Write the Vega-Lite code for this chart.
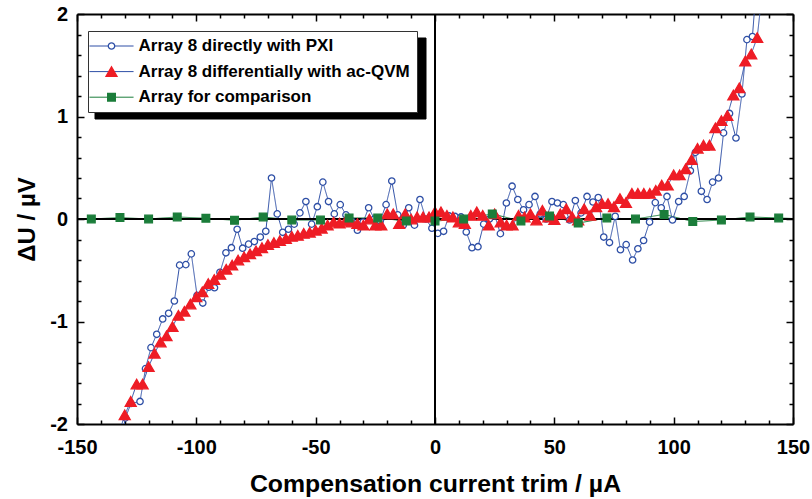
{
"$schema": "https://vega.github.io/schema/vega-lite/v6.json",
"width": 716, "height": 410,
"autosize": {"type": "none"},
"padding": {"left": 77, "top": 14, "right": 19, "bottom": 75},
"config": {"view": {"stroke": null}, "font": "Liberation Sans"},
"data": {"values": [
{"s":"Array 8 directly with PXI","x":-132.1,"y":-2.25},
{"s":"Array 8 directly with PXI","x":-129.7,"y":-1.94},
{"s":"Array 8 directly with PXI","x":-127.4,"y":-1.8},
{"s":"Array 8 directly with PXI","x":-123.6,"y":-1.78},
{"s":"Array 8 directly with PXI","x":-121.3,"y":-1.46},
{"s":"Array 8 directly with PXI","x":-119.0,"y":-1.255},
{"s":"Array 8 directly with PXI","x":-116.6,"y":-1.125},
{"s":"Array 8 directly with PXI","x":-114.1,"y":-0.975},
{"s":"Array 8 directly with PXI","x":-111.6,"y":-0.92},
{"s":"Array 8 directly with PXI","x":-109.2,"y":-0.8},
{"s":"Array 8 directly with PXI","x":-107.0,"y":-0.45},
{"s":"Array 8 directly with PXI","x":-104.4,"y":-0.445},
{"s":"Array 8 directly with PXI","x":-102.1,"y":-0.34},
{"s":"Array 8 directly with PXI","x":-99.7,"y":-0.745},
{"s":"Array 8 directly with PXI","x":-97.3,"y":-0.82},
{"s":"Array 8 directly with PXI","x":-94.8,"y":-0.665},
{"s":"Array 8 directly with PXI","x":-92.4,"y":-0.67},
{"s":"Array 8 directly with PXI","x":-90.1,"y":-0.52},
{"s":"Array 8 directly with PXI","x":-87.6,"y":-0.33},
{"s":"Array 8 directly with PXI","x":-85.3,"y":-0.28},
{"s":"Array 8 directly with PXI","x":-82.9,"y":-0.1},
{"s":"Array 8 directly with PXI","x":-80.6,"y":-0.285},
{"s":"Array 8 directly with PXI","x":-78.1,"y":-0.245},
{"s":"Array 8 directly with PXI","x":-75.7,"y":-0.22},
{"s":"Array 8 directly with PXI","x":-73.2,"y":-0.176},
{"s":"Array 8 directly with PXI","x":-70.9,"y":-0.12},
{"s":"Array 8 directly with PXI","x":-68.5,"y":0.4},
{"s":"Array 8 directly with PXI","x":-66.1,"y":0.05},
{"s":"Array 8 directly with PXI","x":-63.8,"y":-0.13},
{"s":"Array 8 directly with PXI","x":-61.4,"y":-0.1},
{"s":"Array 8 directly with PXI","x":-59.0,"y":-0.05},
{"s":"Array 8 directly with PXI","x":-56.6,"y":0.06},
{"s":"Array 8 directly with PXI","x":-54.1,"y":0.17},
{"s":"Array 8 directly with PXI","x":-51.7,"y":-0.05},
{"s":"Array 8 directly with PXI","x":-49.3,"y":0.12},
{"s":"Array 8 directly with PXI","x":-47.0,"y":0.36},
{"s":"Array 8 directly with PXI","x":-44.6,"y":0.17},
{"s":"Array 8 directly with PXI","x":-42.2,"y":0.05},
{"s":"Array 8 directly with PXI","x":-39.7,"y":0.14},
{"s":"Array 8 directly with PXI","x":-37.3,"y":0.04},
{"s":"Array 8 directly with PXI","x":-34.9,"y":-0.02},
{"s":"Array 8 directly with PXI","x":-32.5,"y":-0.11},
{"s":"Array 8 directly with PXI","x":-30.1,"y":-0.03},
{"s":"Array 8 directly with PXI","x":-27.8,"y":0.11},
{"s":"Array 8 directly with PXI","x":-25.4,"y":0.0},
{"s":"Array 8 directly with PXI","x":-23.0,"y":-0.02},
{"s":"Array 8 directly with PXI","x":-20.5,"y":0.14},
{"s":"Array 8 directly with PXI","x":-18.1,"y":0.37},
{"s":"Array 8 directly with PXI","x":-15.6,"y":0.04},
{"s":"Array 8 directly with PXI","x":-13.3,"y":-0.06},
{"s":"Array 8 directly with PXI","x":-11.0,"y":0.11},
{"s":"Array 8 directly with PXI","x":-8.6,"y":-0.06},
{"s":"Array 8 directly with PXI","x":-6.3,"y":0.19},
{"s":"Array 8 directly with PXI","x":-3.8,"y":0.0},
{"s":"Array 8 directly with PXI","x":-1.3,"y":-0.09},
{"s":"Array 8 directly with PXI","x":1.2,"y":-0.14},
{"s":"Array 8 directly with PXI","x":3.6,"y":-0.12},
{"s":"Array 8 directly with PXI","x":5.9,"y":0.03},
{"s":"Array 8 directly with PXI","x":8.4,"y":0.025},
{"s":"Array 8 directly with PXI","x":10.9,"y":0.02},
{"s":"Array 8 directly with PXI","x":13.1,"y":-0.127},
{"s":"Array 8 directly with PXI","x":15.5,"y":-0.28},
{"s":"Array 8 directly with PXI","x":18.0,"y":-0.27},
{"s":"Array 8 directly with PXI","x":20.4,"y":-0.05},
{"s":"Array 8 directly with PXI","x":22.8,"y":0.0},
{"s":"Array 8 directly with PXI","x":25.1,"y":0.03},
{"s":"Array 8 directly with PXI","x":27.4,"y":-0.143},
{"s":"Array 8 directly with PXI","x":29.9,"y":0.156},
{"s":"Array 8 directly with PXI","x":32.3,"y":0.32},
{"s":"Array 8 directly with PXI","x":34.7,"y":0.19},
{"s":"Array 8 directly with PXI","x":37.1,"y":0.09},
{"s":"Array 8 directly with PXI","x":39.4,"y":0.14},
{"s":"Array 8 directly with PXI","x":41.9,"y":0.22},
{"s":"Array 8 directly with PXI","x":44.1,"y":0.05},
{"s":"Array 8 directly with PXI","x":46.5,"y":0.0},
{"s":"Array 8 directly with PXI","x":49.0,"y":0.17},
{"s":"Array 8 directly with PXI","x":51.3,"y":0.156},
{"s":"Array 8 directly with PXI","x":53.8,"y":0.14},
{"s":"Array 8 directly with PXI","x":56.4,"y":-0.01},
{"s":"Array 8 directly with PXI","x":58.8,"y":0.18},
{"s":"Array 8 directly with PXI","x":61.2,"y":0.06},
{"s":"Array 8 directly with PXI","x":63.7,"y":0.22},
{"s":"Array 8 directly with PXI","x":66.2,"y":0.166},
{"s":"Array 8 directly with PXI","x":68.4,"y":0.21},
{"s":"Array 8 directly with PXI","x":70.7,"y":-0.176},
{"s":"Array 8 directly with PXI","x":73.1,"y":-0.23},
{"s":"Array 8 directly with PXI","x":75.5,"y":0.026},
{"s":"Array 8 directly with PXI","x":77.7,"y":-0.3},
{"s":"Array 8 directly with PXI","x":80.1,"y":-0.25},
{"s":"Array 8 directly with PXI","x":82.8,"y":-0.4},
{"s":"Array 8 directly with PXI","x":85.0,"y":-0.29},
{"s":"Array 8 directly with PXI","x":87.4,"y":-0.21},
{"s":"Array 8 directly with PXI","x":89.9,"y":-0.03},
{"s":"Array 8 directly with PXI","x":92.3,"y":0.16},
{"s":"Array 8 directly with PXI","x":94.8,"y":0.11},
{"s":"Array 8 directly with PXI","x":97.2,"y":0.22},
{"s":"Array 8 directly with PXI","x":99.5,"y":-0.01},
{"s":"Array 8 directly with PXI","x":102.1,"y":0.17},
{"s":"Array 8 directly with PXI","x":104.4,"y":0.22},
{"s":"Array 8 directly with PXI","x":107.0,"y":0.47},
{"s":"Array 8 directly with PXI","x":109.1,"y":0.65},
{"s":"Array 8 directly with PXI","x":111.6,"y":0.27},
{"s":"Array 8 directly with PXI","x":114.0,"y":0.19},
{"s":"Array 8 directly with PXI","x":116.3,"y":0.36},
{"s":"Array 8 directly with PXI","x":118.8,"y":0.4},
{"s":"Array 8 directly with PXI","x":120.9,"y":0.84},
{"s":"Array 8 directly with PXI","x":123.4,"y":1.03},
{"s":"Array 8 directly with PXI","x":126.1,"y":0.79},
{"s":"Array 8 directly with PXI","x":128.6,"y":1.22},
{"s":"Array 8 directly with PXI","x":130.7,"y":1.75},
{"s":"Array 8 directly with PXI","x":133.0,"y":1.78},
{"s":"Array 8 directly with PXI","x":135.4,"y":2.5},
{"s":"Array 8 differentially with ac-QVM","x":-132.5,"y":-2.1},
{"s":"Array 8 differentially with ac-QVM","x":-130,"y":-1.91},
{"s":"Array 8 differentially with ac-QVM","x":-127.5,"y":-1.78},
{"s":"Array 8 differentially with ac-QVM","x":-125,"y":-1.61},
{"s":"Array 8 differentially with ac-QVM","x":-122.5,"y":-1.61},
{"s":"Array 8 differentially with ac-QVM","x":-120,"y":-1.44},
{"s":"Array 8 differentially with ac-QVM","x":-117.5,"y":-1.31},
{"s":"Array 8 differentially with ac-QVM","x":-115,"y":-1.2},
{"s":"Array 8 differentially with ac-QVM","x":-112.5,"y":-1.14},
{"s":"Array 8 differentially with ac-QVM","x":-110,"y":-1.05},
{"s":"Array 8 differentially with ac-QVM","x":-107.5,"y":-0.94},
{"s":"Array 8 differentially with ac-QVM","x":-105,"y":-0.9},
{"s":"Array 8 differentially with ac-QVM","x":-102.5,"y":-0.83},
{"s":"Array 8 differentially with ac-QVM","x":-100,"y":-0.76},
{"s":"Array 8 differentially with ac-QVM","x":-97.5,"y":-0.71},
{"s":"Array 8 differentially with ac-QVM","x":-95,"y":-0.63},
{"s":"Array 8 differentially with ac-QVM","x":-92.5,"y":-0.59},
{"s":"Array 8 differentially with ac-QVM","x":-90,"y":-0.54},
{"s":"Array 8 differentially with ac-QVM","x":-87.5,"y":-0.49},
{"s":"Array 8 differentially with ac-QVM","x":-85,"y":-0.45},
{"s":"Array 8 differentially with ac-QVM","x":-82.5,"y":-0.4},
{"s":"Array 8 differentially with ac-QVM","x":-80,"y":-0.37},
{"s":"Array 8 differentially with ac-QVM","x":-77.5,"y":-0.34},
{"s":"Array 8 differentially with ac-QVM","x":-75,"y":-0.31},
{"s":"Array 8 differentially with ac-QVM","x":-72.5,"y":-0.28},
{"s":"Array 8 differentially with ac-QVM","x":-70,"y":-0.25},
{"s":"Array 8 differentially with ac-QVM","x":-67.5,"y":-0.23},
{"s":"Array 8 differentially with ac-QVM","x":-65,"y":-0.21},
{"s":"Array 8 differentially with ac-QVM","x":-62.5,"y":-0.19},
{"s":"Array 8 differentially with ac-QVM","x":-60,"y":-0.17},
{"s":"Array 8 differentially with ac-QVM","x":-57.5,"y":-0.16},
{"s":"Array 8 differentially with ac-QVM","x":-55,"y":-0.14},
{"s":"Array 8 differentially with ac-QVM","x":-52.5,"y":-0.13},
{"s":"Array 8 differentially with ac-QVM","x":-50,"y":-0.11},
{"s":"Array 8 differentially with ac-QVM","x":-47.5,"y":-0.09},
{"s":"Array 8 differentially with ac-QVM","x":-45,"y":-0.06},
{"s":"Array 8 differentially with ac-QVM","x":-42.5,"y":-0.03},
{"s":"Array 8 differentially with ac-QVM","x":-40,"y":-0.04},
{"s":"Array 8 differentially with ac-QVM","x":-37.5,"y":-0.02},
{"s":"Array 8 differentially with ac-QVM","x":-35,"y":-0.03},
{"s":"Array 8 differentially with ac-QVM","x":-32.5,"y":-0.045},
{"s":"Array 8 differentially with ac-QVM","x":-30,"y":-0.06},
{"s":"Array 8 differentially with ac-QVM","x":-27.5,"y":0.0},
{"s":"Array 8 differentially with ac-QVM","x":-25,"y":-0.06},
{"s":"Array 8 differentially with ac-QVM","x":-22.5,"y":-0.06},
{"s":"Array 8 differentially with ac-QVM","x":-20,"y":0.05},
{"s":"Array 8 differentially with ac-QVM","x":-17.5,"y":0.05},
{"s":"Array 8 differentially with ac-QVM","x":-15,"y":-0.045},
{"s":"Array 8 differentially with ac-QVM","x":-12.5,"y":0.05},
{"s":"Array 8 differentially with ac-QVM","x":-10,"y":0.0},
{"s":"Array 8 differentially with ac-QVM","x":-7.5,"y":0.02},
{"s":"Array 8 differentially with ac-QVM","x":-5,"y":0.02},
{"s":"Array 8 differentially with ac-QVM","x":-2.5,"y":0.02},
{"s":"Array 8 differentially with ac-QVM","x":0,"y":0.07},
{"s":"Array 8 differentially with ac-QVM","x":2.5,"y":0.07},
{"s":"Array 8 differentially with ac-QVM","x":5,"y":0.035},
{"s":"Array 8 differentially with ac-QVM","x":7.5,"y":0.02},
{"s":"Array 8 differentially with ac-QVM","x":10,"y":-0.03},
{"s":"Array 8 differentially with ac-QVM","x":12.5,"y":-0.045},
{"s":"Array 8 differentially with ac-QVM","x":15,"y":0.035},
{"s":"Array 8 differentially with ac-QVM","x":17.5,"y":0.07},
{"s":"Array 8 differentially with ac-QVM","x":20,"y":0.035},
{"s":"Array 8 differentially with ac-QVM","x":22.5,"y":-0.06},
{"s":"Array 8 differentially with ac-QVM","x":25,"y":0.05},
{"s":"Array 8 differentially with ac-QVM","x":27.5,"y":-0.03},
{"s":"Array 8 differentially with ac-QVM","x":30,"y":-0.06},
{"s":"Array 8 differentially with ac-QVM","x":32.5,"y":-0.06},
{"s":"Array 8 differentially with ac-QVM","x":35,"y":0.035},
{"s":"Array 8 differentially with ac-QVM","x":37.5,"y":0.02},
{"s":"Array 8 differentially with ac-QVM","x":40,"y":0.05},
{"s":"Array 8 differentially with ac-QVM","x":42.5,"y":-0.01},
{"s":"Array 8 differentially with ac-QVM","x":45,"y":0.085},
{"s":"Array 8 differentially with ac-QVM","x":47.5,"y":0.02},
{"s":"Array 8 differentially with ac-QVM","x":50,"y":-0.006},
{"s":"Array 8 differentially with ac-QVM","x":52.5,"y":0.05},
{"s":"Array 8 differentially with ac-QVM","x":55,"y":0.1},
{"s":"Array 8 differentially with ac-QVM","x":57.5,"y":0.02},
{"s":"Array 8 differentially with ac-QVM","x":60,"y":-0.01},
{"s":"Array 8 differentially with ac-QVM","x":62.5,"y":0.1},
{"s":"Array 8 differentially with ac-QVM","x":65,"y":0.035},
{"s":"Array 8 differentially with ac-QVM","x":67.5,"y":0.12},
{"s":"Array 8 differentially with ac-QVM","x":70,"y":0.15},
{"s":"Array 8 differentially with ac-QVM","x":72.5,"y":0.15},
{"s":"Array 8 differentially with ac-QVM","x":75,"y":0.12},
{"s":"Array 8 differentially with ac-QVM","x":77.5,"y":0.2},
{"s":"Array 8 differentially with ac-QVM","x":80,"y":0.16},
{"s":"Array 8 differentially with ac-QVM","x":82.5,"y":0.25},
{"s":"Array 8 differentially with ac-QVM","x":85,"y":0.25},
{"s":"Array 8 differentially with ac-QVM","x":87.5,"y":0.25},
{"s":"Array 8 differentially with ac-QVM","x":90,"y":0.25},
{"s":"Array 8 differentially with ac-QVM","x":92.5,"y":0.28},
{"s":"Array 8 differentially with ac-QVM","x":95,"y":0.33},
{"s":"Array 8 differentially with ac-QVM","x":97.5,"y":0.33},
{"s":"Array 8 differentially with ac-QVM","x":100,"y":0.43},
{"s":"Array 8 differentially with ac-QVM","x":102.5,"y":0.43},
{"s":"Array 8 differentially with ac-QVM","x":105,"y":0.49},
{"s":"Array 8 differentially with ac-QVM","x":107.5,"y":0.58},
{"s":"Array 8 differentially with ac-QVM","x":110,"y":0.69},
{"s":"Array 8 differentially with ac-QVM","x":112.5,"y":0.72},
{"s":"Array 8 differentially with ac-QVM","x":115,"y":0.72},
{"s":"Array 8 differentially with ac-QVM","x":117.5,"y":0.89},
{"s":"Array 8 differentially with ac-QVM","x":120,"y":0.96},
{"s":"Array 8 differentially with ac-QVM","x":122.5,"y":1.01},
{"s":"Array 8 differentially with ac-QVM","x":125,"y":1.21},
{"s":"Array 8 differentially with ac-QVM","x":127.5,"y":1.28},
{"s":"Array 8 differentially with ac-QVM","x":130,"y":1.54},
{"s":"Array 8 differentially with ac-QVM","x":132.5,"y":1.61},
{"s":"Array 8 differentially with ac-QVM","x":135,"y":1.77},
{"s":"Array 8 differentially with ac-QVM","x":137.5,"y":2.3},
{"s":"Array for comparison","x":-156,"y":0.0},
{"s":"Array for comparison","x":-144,"y":0.0},
{"s":"Array for comparison","x":-132,"y":0.014},
{"s":"Array for comparison","x":-120,"y":0.0},
{"s":"Array for comparison","x":-108,"y":0.02},
{"s":"Array for comparison","x":-96,"y":0.007},
{"s":"Array for comparison","x":-84,"y":-0.013},
{"s":"Array for comparison","x":-72,"y":0.02},
{"s":"Array for comparison","x":-60,"y":-0.01},
{"s":"Array for comparison","x":-48,"y":-0.01},
{"s":"Array for comparison","x":-36,"y":0.01},
{"s":"Array for comparison","x":-24,"y":0.01},
{"s":"Array for comparison","x":-12,"y":-0.02},
{"s":"Array for comparison","x":0,"y":-0.02},
{"s":"Array for comparison","x":12,"y":0.0},
{"s":"Array for comparison","x":24,"y":0.05},
{"s":"Array for comparison","x":36,"y":-0.02},
{"s":"Array for comparison","x":48,"y":0.03},
{"s":"Array for comparison","x":60,"y":-0.04},
{"s":"Array for comparison","x":72,"y":0.01},
{"s":"Array for comparison","x":84,"y":0.0},
{"s":"Array for comparison","x":96,"y":0.045},
{"s":"Array for comparison","x":108,"y":-0.025},
{"s":"Array for comparison","x":120,"y":-0.01},
{"s":"Array for comparison","x":132,"y":0.02},
{"s":"Array for comparison","x":144,"y":0.01},
{"s":"Array for comparison","x":156,"y":0.0}
]},
"transform": [{"calculate": "'k' + indexof(['Array 8 directly with PXI','Array 8 differentially with ac-QVM','Array for comparison'], datum.s)", "as": "k"}],
"layer": [
{"mark": {"type": "line", "strokeWidth": 1, "clip": true},
 "encoding": {
  "x": {"field": "x", "type": "quantitative", "scale": {"domain": [-150, 150], "nice": false, "zero": false},
        "axis": {"orient": "bottom", "values": [-150,-100,-50,0,50,100,150], "tickSize": -7, "tickWidth": 1.5, "tickColor": "black", "domainColor": "black", "domainWidth": 2, "grid": false, "labelFont": "Liberation Sans", "labelFontWeight": "bold", "labelFontSize": 20, "labelColor": "black", "labelPadding": 20, "labelFlush": false, "labelOverlap": false, "labelExpr": "replace(datum.label, '−', '-')", "title": "Compensation current trim / µA", "titleFont": "Liberation Sans", "titleFontWeight": "bold", "titleFontSize": 24.8, "titleColor": "black", "titlePadding": 14}},
  "y": {"field": "y", "type": "quantitative", "scale": {"domain": [-2, 2], "nice": false, "zero": false},
        "axis": {"orient": "left", "values": [-2,-1,0,1,2], "tickSize": -7, "tickWidth": 1.5, "tickColor": "black", "domainColor": "black", "domainWidth": 2, "grid": false, "labelFont": "Liberation Sans", "labelFontWeight": "bold", "labelFontSize": 20, "labelColor": "black", "labelPadding": 16.5, "labelFlush": false, "labelOverlap": false, "labelExpr": "replace(datum.label, '−', '-')", "title": "ΔU / µV", "titleFont": "Liberation Sans", "titleFontWeight": "bold", "titleFontSize": 24, "titleColor": "black", "titlePadding": 10}},
  "color": {"field": "s", "type": "nominal", "sort": ["Array 8 directly with PXI","Array 8 differentially with ac-QVM","Array for comparison"],
            "scale": {"range": ["#2e4fa6", "#2e4fa6", "#1b7d3a"]},
            "legend": {"orient": "none", "legendX": 11, "legendY": 17, "title": null, "direction": "vertical", "padding": 6.5, "rowPadding": 7.6, "labelFont": "Liberation Sans", "labelFontWeight": "bold", "labelFontSize": 17, "labelColor": "black", "labelLimit": 500, "labelOffset": 18.5, "symbolType": "M-3.15,0H3.15", "symbolSize": 196, "symbolStrokeWidth": 1, "symbolOffset": 8.5, "fillColor": "white", "strokeColor": "#333", "zindex": 2}},
  "strokeDash": {"field": "s", "type": "nominal", "sort": ["Array 8 directly with PXI","Array 8 differentially with ac-QVM","Array for comparison"],
            "scale": {"range": [[1,0],[1,0],[1,0]]},
            "legend": {"orient": "none", "legendX": 17.5, "legendY": 23.5, "title": null, "direction": "vertical", "padding": 6.5, "rowPadding": 7.6, "labelFont": "Liberation Sans", "labelFontWeight": "bold", "labelFontSize": 17, "labelColor": "black", "labelOffset": 18.5, "labelExpr": "''", "symbolType": "M-3.15,0H42.7", "symbolSize": 196, "symbolStrokeWidth": 1, "symbolStrokeColor": "black", "symbolOffset": 8.5, "fillColor": "black", "strokeColor": "black", "zindex": 1}}
 }},
{"mark": {"type": "rule", "color": "black", "strokeWidth": 1.5},
 "encoding": {"y": {"datum": 0, "axis": null}}},
{"mark": {"type": "point", "strokeWidth": 1.3, "opacity": 1, "size": 121, "clip": true},
 "encoding": {
  "x": {"field": "x", "type": "quantitative", "axis": {"orient": "bottom", "values": [-140,-130,-120,-110,-90,-80,-70,-60,-40,-30,-20,-10,10,20,30,40,60,70,80,90,110,120,130,140], "tickSize": -4, "tickWidth": 1.5, "tickColor": "black", "labels": false, "domain": false, "grid": false, "title": null}},
  "y": {"field": "y", "type": "quantitative", "axis": {"orient": "left", "values": [-1.8,-1.6,-1.4,-1.2,-0.8,-0.6,-0.4,-0.2,0.2,0.4,0.6,0.8,1.2,1.4,1.6,1.8], "tickSize": -4, "tickWidth": 1.5, "tickColor": "black", "labels": false, "domain": false, "grid": false, "title": null}},
  "shape": {"field": "k", "type": "nominal", "scale": {"range": ["M0.58,0A0.58,0.58,0,1,1,-0.58,0A0.58,0.58,0,1,1,0.58,0Z", "M0,-0.87L1,0.87L-1,0.87Z", "M-0.7,-0.7H0.7V0.7H-0.7Z"]},
            "legend": {"orient": "none", "legendX": 11, "legendY": 17, "title": null, "direction": "vertical", "padding": 6.5, "rowPadding": 7.6, "labelFontSize": 17, "labelExpr": "''", "labelOffset": 18.5, "symbolOffset": 8.5, "symbolSize": 121, "symbolStrokeWidth": 1.3, "zindex": 3}},
  "fill": {"field": "k", "type": "nominal", "scale": {"range": ["white", "#ee1c25", "#1b7d3a"]},
            "legend": {"orient": "none", "legendX": 11, "legendY": 17, "title": null, "direction": "vertical", "padding": 6.5, "rowPadding": 7.6, "labelFontSize": 17, "labelExpr": "''", "labelOffset": 18.5, "symbolOffset": 8.5, "symbolSize": 121, "symbolStrokeWidth": 1.3, "zindex": 3}},
  "stroke": {"field": "k", "type": "nominal", "scale": {"range": ["#2e4fa6", "#ee1c25", "#1b7d3a"]},
            "legend": {"orient": "none", "legendX": 11, "legendY": 17, "title": null, "direction": "vertical", "padding": 6.5, "rowPadding": 7.6, "labelFontSize": 17, "labelExpr": "''", "labelOffset": 18.5, "symbolOffset": 8.5, "symbolSize": 121, "symbolStrokeWidth": 1.3, "zindex": 3}}
 }},
{"mark": {"type": "rule", "color": "black", "strokeWidth": 2},
 "encoding": {"x": {"datum": 0, "axis": null}}},
{"mark": {"type": "point", "opacity": 0},
 "encoding": {
  "x": {"field": "x", "type": "quantitative", "axis": {"orient": "top", "values": [-150,-100,-50,0,50,100,150], "tickSize": -7, "tickWidth": 1.5, "tickColor": "black", "labels": false, "domain": true, "domainColor": "black", "domainWidth": 2, "grid": false, "title": null}},
  "y": {"field": "y", "type": "quantitative", "axis": {"orient": "right", "values": [-2,-1,0,1,2], "tickSize": -7, "tickWidth": 1.5, "tickColor": "black", "labels": false, "domain": true, "domainColor": "black", "domainWidth": 2, "grid": false, "title": null}}
 }},
{"mark": {"type": "point", "opacity": 0},
 "encoding": {
  "x": {"field": "x", "type": "quantitative", "axis": {"orient": "top", "values": [-140,-130,-120,-110,-90,-80,-70,-60,-40,-30,-20,-10,10,20,30,40,60,70,80,90,110,120,130,140], "tickSize": -4, "tickWidth": 1.5, "tickColor": "black", "labels": false, "domain": false, "grid": false, "title": null}},
  "y": {"field": "y", "type": "quantitative", "axis": {"orient": "right", "values": [-1.8,-1.6,-1.4,-1.2,-0.8,-0.6,-0.4,-0.2,0.2,0.4,0.6,0.8,1.2,1.4,1.6,1.8], "tickSize": -4, "tickWidth": 1.5, "tickColor": "black", "labels": false, "domain": false, "grid": false, "title": null}}
 }}
],
"resolve": {"axis": {"x": "independent", "y": "independent"}}
}
